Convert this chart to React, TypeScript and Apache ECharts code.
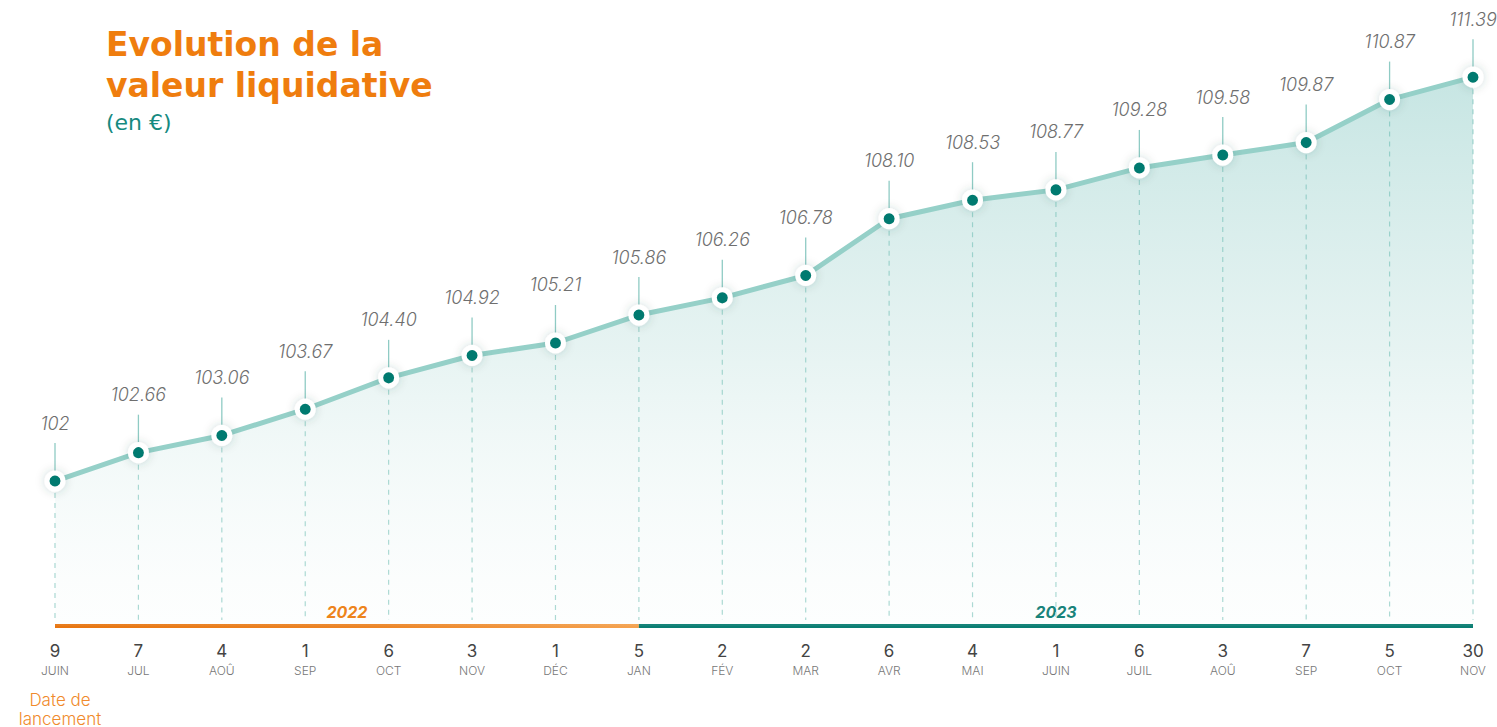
import React, { useEffect, useRef } from "react";
import * as echarts from "echarts";

const days = ["9", "7", "4", "1", "6", "3", "1", "5", "2", "2", "6", "4", "1", "6", "3", "7", "5", "30"];
const months = ["JUIN", "JUL", "AOÛ", "SEP", "OCT", "NOV", "DÉC", "JAN", "FÉV", "MAR", "AVR", "MAI", "JUIN", "JUIL", "AOÛ", "SEP", "OCT", "NOV"];
const values = [102, 102.66, 103.06, 103.67, 104.4, 104.92, 105.21, 105.86, 106.26, 106.78, 108.1, 108.53, 108.77, 109.28, 109.58, 109.87, 110.87, 111.39];
const valueLabels = ["102", "102.66", "103.06", "103.67", "104.40", "104.92", "105.21", "105.86", "106.26", "106.78", "108.10", "108.53", "108.77", "109.28", "109.58", "109.87", "110.87", "111.39"];
const yearSplitIndex = 7;
const years = ["2022", "2023"];
const titleLines = ["Evolution de la", "valeur liquidative"];
const subtitle = "(en €)";

const FONT = "Inter, 'Noto Sans', sans-serif";

export default function App() {
  const ref = useRef<HTMLDivElement>(null);
  useEffect(() => {
    const chart = echarts.init(ref.current!, null, { renderer: "svg" });
    const cats = days.map((d, i) => d + "|" + months[i]);
    const yMin = 98.63;
    const yMax = 112.72;
    chart.setOption({
      animation: false,
      backgroundColor: "#ffffff",
      grid: { left: 55, right: 24, top: 20, bottom: 101, containLabel: false },
      xAxis: {
        type: "category",
        data: cats,
        boundaryGap: false,
        axisLine: { show: false },
        axisTick: { show: false },
        splitLine: { show: false },
        axisLabel: {
          interval: 0,
          margin: 14,
          formatter: (v: string) => {
            const [d, m] = v.split("|");
            return "{d|" + d + "}\n{m|" + m + "}";
          },
          rich: {
            d: { fontFamily: FONT, fontSize: 17, color: "#444", lineHeight: 22, align: "center" },
            m: { fontFamily: FONT, fontSize: 12, fontWeight: 300, color: "#777", lineHeight: 16, align: "center" },
          },
        },
      },
      yAxis: {
        type: "value",
        min: yMin,
        max: yMax,
        show: false,
        splitLine: { show: false },
      },
      series: [
        {
          type: "custom",
          z: 1,
          data: values.map((v, i) => [i, v]),
          renderItem: (params: any, api: any) => {
            const p = api.coord([api.value(0), api.value(1)]);
            const bottom = api.coord([api.value(0), yMin])[1];
            const i = params.dataIndex;
            return {
              type: "group",
              children: [
                {
                  type: "line",
                  shape: { x1: p[0], y1: p[1] + 12, x2: p[0], y2: bottom - 6 },
                  style: { stroke: "#a9d8d2", lineWidth: 1.2, lineDash: [5, 5] },
                },
                {
                  type: "line",
                  shape: { x1: p[0], y1: p[1] - 38, x2: p[0], y2: p[1] - 4 },
                  style: { stroke: "#8fcbc4", lineWidth: 1.3 },
                },
                {
                  type: "text",
                  style: {
                    text: valueLabels[i],
                    x: p[0],
                    y: p[1] - 58,
                    align: "center",
                    verticalAlign: "middle",
                    fontFamily: FONT,
                    fontStyle: "italic",
                    fontWeight: 300,
                    fontSize: 18,
                    fill: "#6f6f6f",
                  },
                },
              ],
            };
          },
        },
        {
          type: "line",
          z: 3,
          data: values,
          symbol: "circle",
          symbolSize: 16,
          lineStyle: { color: "#95d0c8", width: 5 },
          itemStyle: {
            color: "#047a6f",
            borderColor: "#ffffff",
            borderWidth: 5,
            shadowColor: "rgba(0,80,70,0.2)",
            shadowBlur: 10,
          },
          areaStyle: {
            color: new echarts.graphic.LinearGradient(0, 0, 0, 1, [
              { offset: 0, color: "rgba(100,185,178,0.52)" },
              { offset: 0.5, color: "rgba(130,196,190,0.28)" },
              { offset: 1, color: "rgba(220,238,236,0.08)" },
            ]),
          },
          label: { show: false },
        },
      ],
    });

    const left = chart.convertToPixel({ xAxisIndex: 0 }, 0) as number;
    const mid = chart.convertToPixel({ xAxisIndex: 0 }, yearSplitIndex) as number;
    const right = chart.convertToPixel({ xAxisIndex: 0 }, values.length - 1) as number;
    const base = chart.convertToPixel({ yAxisIndex: 0 }, yMin) as number;

    const titleStyle = {
      fontFamily: "'DejaVu Sans', sans-serif",
      fontWeight: "bold",
      fontSize: 33,
      fill: "#ef7d0e",
      align: "left",
      verticalAlign: "middle",
    };

    chart.setOption({
      graphic: [
        { type: "text", style: { ...titleStyle, text: titleLines[0], x: 106, y: 44 } },
        { type: "text", style: { ...titleStyle, text: titleLines[1], x: 106, y: 85 } },
        {
          type: "text",
          style: {
            text: subtitle,
            x: 106,
            y: 122,
            align: "left",
            verticalAlign: "middle",
            fontFamily: "'DejaVu Sans', sans-serif",
            fontSize: 22,
            fill: "#168a80",
          },
        },
        {
          type: "rect",
          shape: { x: left, y: base - 2, width: mid - left, height: 4 },
          style: {
            fill: new echarts.graphic.LinearGradient(0, 0, 1, 0, [
              { offset: 0, color: "#e87510" },
              { offset: 0.55, color: "#ed8526" },
              { offset: 1, color: "#f5a24f" },
            ]),
          },
        },
        {
          type: "rect",
          shape: { x: mid, y: base - 2, width: right - mid, height: 4 },
          style: { fill: "#0a7d72" },
        },
        {
          type: "text",
          style: {
            text: years[0],
            x: (left + mid) / 2,
            y: base - 14,
            align: "center",
            verticalAlign: "middle",
            fontFamily: FONT,
            fontStyle: "italic",
            fontWeight: 700,
            fontSize: 16,
            fill: "#ef7d0e",
          },
        },
        {
          type: "text",
          style: {
            text: years[1],
            x: (mid + right) / 2,
            y: base - 14,
            align: "center",
            verticalAlign: "middle",
            fontFamily: FONT,
            fontStyle: "italic",
            fontWeight: 700,
            fontSize: 16,
            fill: "#0d7c73",
          },
        },
        {
          type: "text",
          style: {
            text: "Date de\nlancement",
            x: left + 5,
            y: 709,
            align: "center",
            verticalAlign: "middle",
            fontFamily: FONT,
            fontWeight: 300,
            fontSize: 17,
            lineHeight: 19,
            fill: "#f08a2c",
          },
        },
      ],
    });

    return () => chart.dispose();
  }, []);
  return (
    <div
      ref={ref}
      style={{ position: "fixed", left: 0, top: 0, width: 1497, height: 727 }}
    />
  );
}
